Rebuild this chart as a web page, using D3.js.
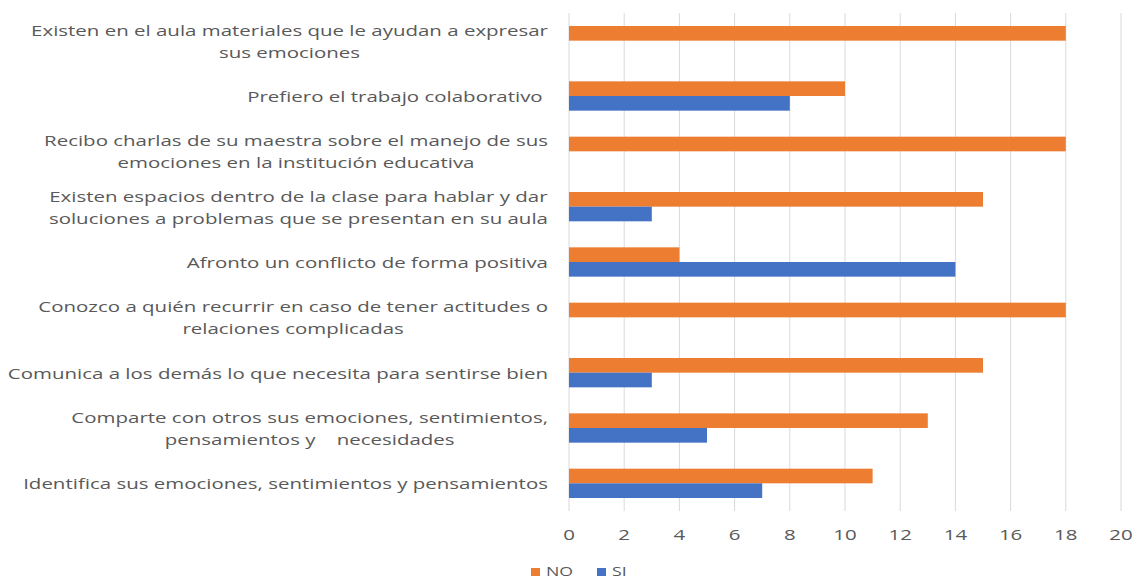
<!DOCTYPE html>
<html>
<head>
<meta charset="utf-8">
<script src="https://cdn.jsdelivr.net/npm/d3@7"></script>
<style>
  body { margin: 0; background: #fff; }
  text { font-family: "Open Sans", sans-serif; fill: #595959; white-space: pre; }
</style>
</head>
<body>
<div id="chart"></div>
<script>
// Chart data
const categories = [
  ["Existen en el aula materiales que le ayudan a expresar", "sus emociones"],
  ["Prefiero el trabajo colaborativo "],
  ["Recibo charlas de su maestra sobre el manejo de sus", "emociones en la institución educativa"],
  ["Existen espacios dentro de la clase para hablar y dar", "soluciones a problemas que se presentan en su aula"],
  ["Afronto un conflicto de forma positiva"],
  ["Conozco a quién recurrir en caso de tener actitudes o", "relaciones complicadas"],
  ["Comunica a los demás lo que necesita para sentirse bien"],
  ["Comparte con otros sus emociones, sentimientos,", "pensamientos y    necesidades"],
  ["Identifica sus emociones, sentimientos y pensamientos"]
];
const noValues = [18, 10, 18, 15, 4, 18, 15, 13, 11];
const siValues = [0, 8, 0, 3, 14, 0, 3, 5, 7];
const seriesNames = ["NO", "SI"];
const seriesColors = ["#ED7D31", "#4472C4"];
const xTicks = [0, 2, 4, 6, 8, 10, 12, 14, 16, 18, 20];

//Chart Variables
const width = 1137;
const height = 579;
const margin = { top: 13, right: 16, bottom: 68, left: 569 };
const fontSize = "15px";

const svg = d3.select("#chart")
  .append("svg")
  .attr("width", width)
  .attr("height", height);

//Text in the picture is drawn wider than the font: find the stretch from the longest label
const probe = svg.append("text").attr("font-size", fontSize).text(categories[0][0]);
const stretch = 517 / probe.node().getComputedTextLength();
probe.remove();

//Scales
const x = d3.scaleLinear()
  .domain([0, 20])
  .range([margin.left, width - margin.right]);

const y = d3.scaleBand()
  .domain(d3.range(categories.length))
  .range([margin.top, height - margin.bottom])
  .paddingInner(0.47)
  .paddingOuter(0.235);

const ySeries = d3.scaleBand()
  .domain(seriesNames)
  .range([0, y.bandwidth()]);

//Gridlines
svg.append("g")
  .selectAll("line")
  .data(xTicks)
  .join("line")
  .attr("x1", d => x(d))
  .attr("x2", d => x(d))
  .attr("y1", margin.top)
  .attr("y2", height - margin.bottom)
  .attr("stroke", "#d9d9d9")
  .attr("stroke-width", 1);

//Bars
const rows = categories.map((c, i) => ({ i, values: [noValues[i], siValues[i]] }));
const rowGroups = svg.append("g")
  .selectAll("g")
  .data(rows)
  .join("g")
  .attr("transform", d => `translate(0, ${y(d.i)})`);

rowGroups.selectAll("rect")
  .data(d => d.values.map((v, k) => ({ v, k })))
  .join("rect")
  .attr("x", x(0))
  .attr("y", d => ySeries(seriesNames[d.k]))
  .attr("width", d => x(d.v) - x(0))
  .attr("height", ySeries.bandwidth())
  .attr("fill", d => seriesColors[d.k]);

//Category labels (multi-line, centered on the widest line, right edge fixed)
const labelRight = 548;
const lineH = 22;
const labelG = svg.append("g");
categories.forEach((lines, i) => {
  const cy = y(i) + y.bandwidth() / 2;
  const g = labelG.append("g");
  const texts = lines.map((line, j) =>
    g.append("text")
      .attr("font-size", fontSize)
      .attr("dominant-baseline", "central")
      .attr("text-anchor", "middle")
      .attr("y", cy + (j - (lines.length - 1) / 2) * lineH)
      .text(line)
  );
  const maxW = d3.max(texts, t => t.node().getComputedTextLength()) * stretch;
  const cx = labelRight - maxW / 2;
  texts.forEach(t => t.attr("transform", `translate(${cx},0) scale(${stretch},1)`));
});

//X axis tick labels
svg.append("g")
  .selectAll("text")
  .data(xTicks)
  .join("text")
  .attr("transform", d => `translate(${x(d)}, ${height - margin.bottom + 23}) scale(${stretch},1)`)
  .attr("text-anchor", "middle")
  .attr("dominant-baseline", "central")
  .attr("font-size", fontSize)
  .text(d => d);

//Legend
const legend = svg.append("g")
  .attr("transform", `translate(531, 571)`);
const legendItems = legend.selectAll("g")
  .data(seriesNames)
  .join("g")
  .attr("transform", (d, i) => `translate(${i * 66}, 0)`);
legendItems.append("rect")
  .attr("x", 0)
  .attr("y", -3)
  .attr("width", 9)
  .attr("height", 8)
  .attr("fill", (d, i) => seriesColors[i]);
legendItems.append("text")
  .attr("transform", `translate(15,0) scale(${stretch},1)`)
  .attr("dominant-baseline", "central")
  .attr("font-size", "13px")
  .text(d => d);
</script>
</body>
</html>
